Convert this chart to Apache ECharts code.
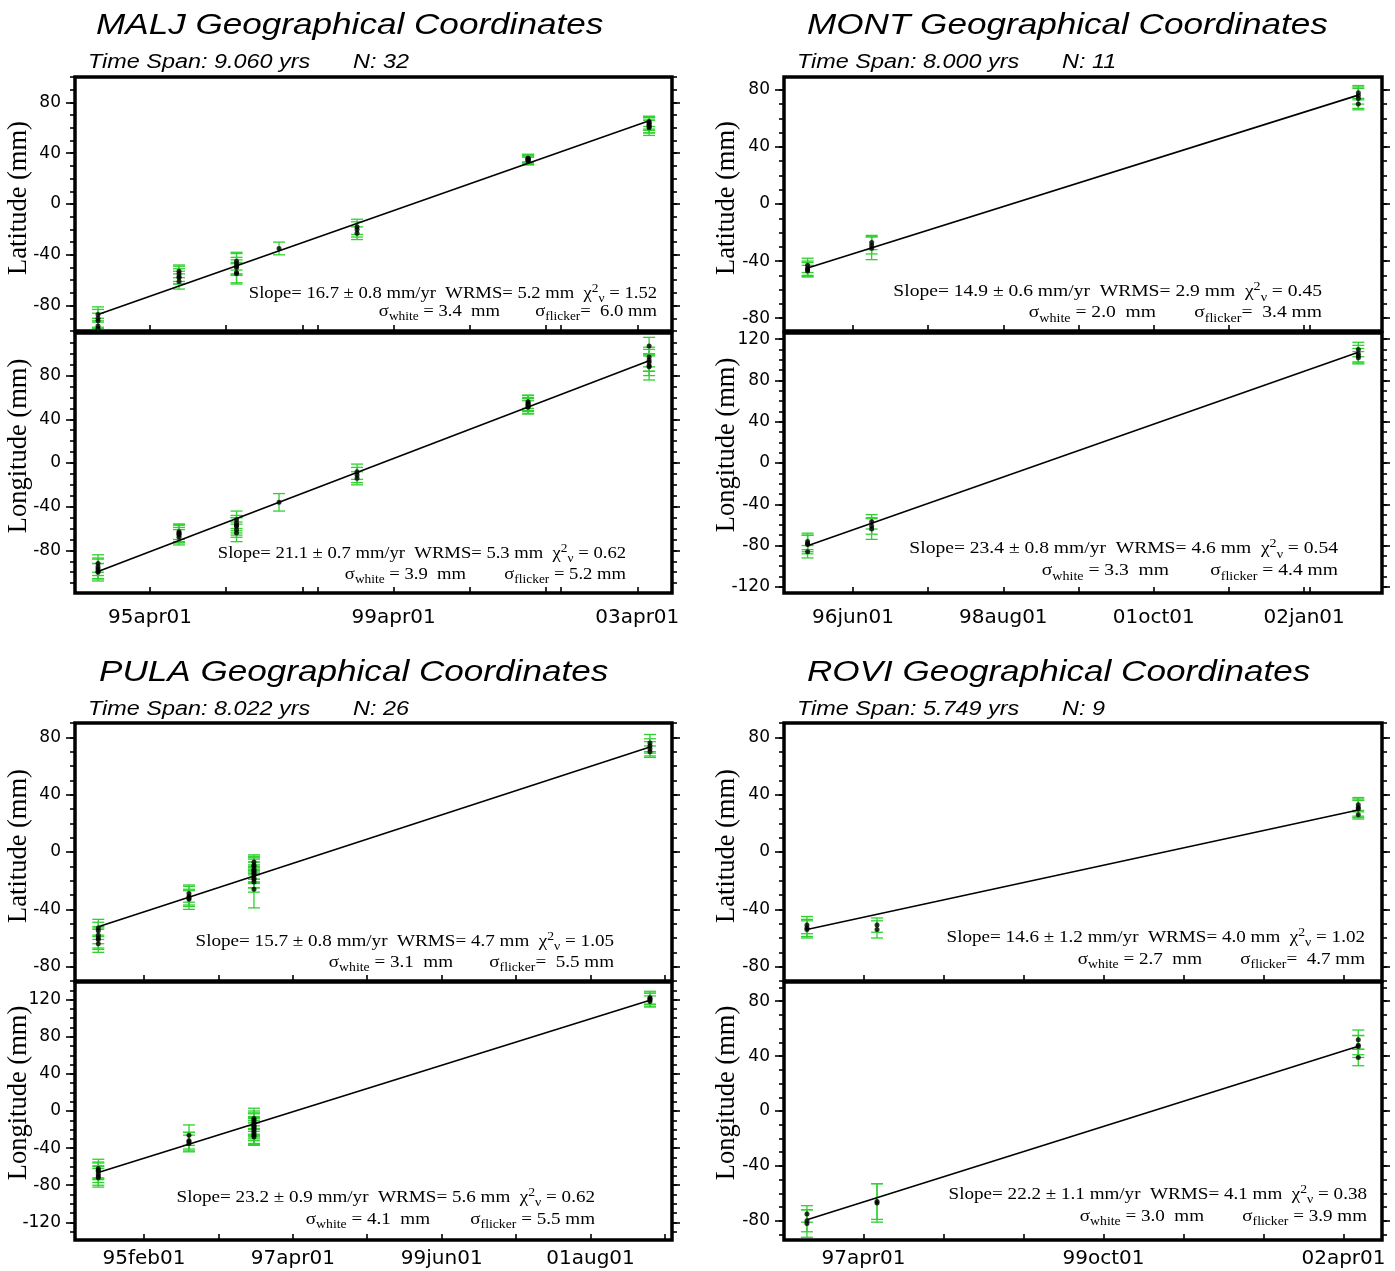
<!DOCTYPE html>
<html>
<head>
<meta charset="utf-8">
<script src="https://cdn.jsdelivr.net/npm/echarts@6/dist/echarts.min.js"></script>
<style>
html,body{margin:0;padding:0;background:#fff;}
#c{width:1395px;height:1271px;}
</style>
</head>
<body>
<div id="c"></div>
<script>
// ================= DATA =================
const stations = ['MALJ', 'MONT', 'PULA', 'ROVI'];
const timeSpans = ['9.060', '8.000', '8.022', '5.749'];
const obsCounts = [32, 11, 26, 9];

// x axis (decimal years)
const xMinYears = [1994.018, 1995.423, 1994.079, 1996.422];
const xMaxYears = [2003.820, 2004.039, 2002.769, 2002.651];
const xLabelTexts = [
  ['95apr01', '99apr01', '03apr01'],
  ['96jun01', '98aug01', '01oct01', '02jan01'],
  ['95feb01', '97apr01', '99jun01', '01aug01'],
  ['97apr01', '99oct01', '02apr01']
];
const xLabelYears = [
  [1995.25, 1999.25, 2003.25],
  [1996.417, 1998.583, 2000.75, 2002.917],
  [1995.083, 1997.25, 1999.417, 2001.583],
  [1997.25, 1999.75, 2002.25]
];
const xTickYears = [
  [1995.25, 1996.5, 1997.75, 1998.0, 1999.25, 2000.5, 2001.75, 2002.0, 2003.25],
  [1996.417, 1997.5, 1998.583, 1999.667, 2000.75, 2001.833, 2002.917, 2003.0],
  [1995.083, 1996.167, 1997.25, 1998.333, 1999.417, 2000.5, 2001.583, 2002.667],
  [1997.25, 1998.083, 1998.917, 1999.75, 2000.583, 2001.417, 2002.25]
];

// y axes (mm)
const latLimits = [100, 89, 90, 90];
const lonLimits = [119, 126, 139, 94];
const latTickLabels = [
  [-80, -40, 0, 40, 80], [-80, -40, 0, 40, 80], [-80, -40, 0, 40, 80], [-80, -40, 0, 40, 80]
];
const lonTickLabels = [
  [-80, -40, 0, 40, 80], [-120, -80, -40, 0, 40, 80, 120], [-120, -80, -40, 0, 40, 80, 120], [-80, -40, 0, 40, 80]
];
const minorTickStep = 10;

// ---- MALJ ----
const maljEpochs = [1994.396, 1995.726, 1996.670, 1997.368, 1998.649, 2001.457, 2003.444];
const maljLat = [[-87, -90, -92, -96, -98], [-53, -55, -57, -58, -61], [-45, -47, -49, -50, -54, -55], [-35], [-18, -20, -23], [36, 35, 34, 36, 35, 34], [65, 64, 63, 62, 61, 60]];
const maljLatErr = [[6, 7, 6, 6, 6], [5, 6, 6, 5, 6], [7, 8, 7, 6, 8, 8], [5], [6, 6, 5], [3, 3, 3, 3, 4, 3], [4, 5, 5, 6, 5, 6]];
const maljLon = [[-92, -95, -97, -99, -100], [-63, -64, -65, -66, -68], [-52, -55, -57, -58, -61, -64], [-36], [-8, -11, -14], [56, 55, 54, 53, 52, 51], [107, 97, 94, 92, 89, 88]];
const maljLonErr = [[8, 8, 9, 7, 8], [7, 8, 8, 7, 7], [8, 7, 7, 8, 7, 8], [8], [7, 7, 6], [6, 7, 6, 6, 7, 6], [8, 9, 10, 8, 9, 12]];

// ---- MONT ----
const montEpochs = [1995.763, 1996.686, 2003.698];
const montLat = [[-43, -45, -46, -47], [-27, -29, -31], [78, 76, 74, 70]];
const montLatErr = [[5, 5, 5, 4], [5, 6, 8], [5, 6, 7, 4]];
const montLon = [[-76, -78, -79, -86], [-57, -61, -64], [110, 106, 104, 102]];
const montLonErr = [[8, 8, 9, 6], [7, 8, 10], [7, 8, 7, 6]];

// ---- PULA ----
const pulaEpochs = [1994.418, 1995.738, 1996.684, 2002.448];
const pulaLat = [[-53, -55, -58, -60, -61, -64], [-29, -31, -32, -33], [-7, -9, -10, -12, -13, -14, -15, -16, -18, -19, -21, -26], [76, 74, 72, 70]];
const pulaLatErr = [[6, 6, 6, 7, 7, 6], [6, 7, 5, 7], [5, 6, 6, 7, 6, 7, 6, 6, 7, 6, 7, 13], [6, 5, 5, 4]];
const pulaLon = [[-62, -64, -65, -68, -70, -72], [-26, -32, -33, -35], [-8, -10, -12, -14, -16, -17, -18, -20, -22, -24, -26, -28], [122, 121, 120, 118]];
const pulaLonErr = [[10, 9, 9, 9, 10, 10], [11, 9, 10, 9], [11, 10, 10, 11, 10, 10, 10, 10, 10, 11, 10, 9], [7, 6, 7, 6]];

// ---- ROVI ----
const roviEpochs = [1996.661, 1997.391, 2002.404];
const roviLat = [[-51, -53, -54], [-51, -54], [33, 31, 30, 26]];
const roviLatErr = [[6, 6, 6], [5, 6], [5, 6, 6, 3]];
const roviLon = [[-75, -80, -82], [-67, -66], [52, 48, 47, 39]];
const roviLonErr = [[6, 8, 10], [14, 13], [7, 7, 8, 6]];

// fitted lines (start, end)
const latFits = [
  [[1994.396, -87.0], [2003.444, 65.6]],
  [[1995.763, -44.9], [2003.698, 76.3]],
  [[1994.418, -52.1], [2002.448, 73.3]],
  [[1996.661, -54.1], [2002.404, 29.3]]
];
const lonFits = [
  [[1994.396, -99.3], [2003.444, 93.5]],
  [[1995.763, -80.3], [2003.698, 107.3]],
  [[1994.418, -66.3], [2002.448, 119.4]],
  [[1996.661, -79.3], [2002.404, 47.2]]
];

// statistics text
const latSlopes = ['16.7 ± 0.8', '14.9 ± 0.6', '15.7 ± 0.8', '14.6 ± 1.2'];
const lonSlopes = ['21.1 ± 0.7', '23.4 ± 0.8', '23.2 ± 0.9', '22.2 ± 1.1'];
const latWrms = ['5.2', '2.9', '4.7', '4.0'];
const lonWrms = ['5.3', '4.6', '5.6', '4.1'];
const latChi2 = ['1.52', '0.45', '1.05', '1.02'];
const lonChi2 = ['0.62', '0.54', '0.62', '0.38'];
const latSigWhite = ['3.4', '2.0', '3.1', '2.7'];
const lonSigWhite = ['3.9', '3.3', '4.1', '3.0'];
const latSigFlicker = ['6.0', '3.4', '5.5', '4.7'];
const lonSigFlicker = ['5.2', '4.4', '5.5', '3.9'];

// ================= LAYOUT / STYLE =================
const COL_LEFT = [75, 784];
const COL_WIDTH = [597, 598];
const ROW_LAT_TOP = [77, 723];
const ROW_LAT_H = [254, 258];
const ROW_LON_TOP = [333, 982];
const ROW_LON_H = [260, 258];
const X_LABEL_MARGIN = [15, 9];
const TITLE_X = [96, 807, 99, 807];
const TITLE_Y = [26, 673];
const SUB_X = [88, 797];
const SUBN_X = [353, 1062];
const SUB_Y = [62, 709];
const YTITLE_X = [19, 727];
const YTITLE_LAT_Y = [198, 198, 846, 846];
const YTITLE_LON_Y = [446, 445, 1093, 1093];
// [line1 right, line1 y, white right, flicker right, line2 y]
const ANNO = [
  { lat: [657, 294, 500, 657, 312], lon: [626, 554, 466, 626, 575] },
  { lat: [1322, 292, 1156, 1322, 313], lon: [1338, 549, 1169, 1338, 571] },
  { lat: [614, 942, 453, 614, 963], lon: [595, 1198, 430, 595, 1220] },
  { lat: [1365, 938, 1202, 1365, 960], lon: [1367, 1195, 1204, 1367, 1217] }
];
const ANNO_FONT = [16.2, 17, 16.6, 16.6];
const GREEN = '#2fd12f';
const SANS = 'Liberation Sans';
const SERIF = 'Liberation Serif';
const TICKFONT = 'DejaVu Sans';

const sets = [
  { epochs: maljEpochs, lat: maljLat, latErr: maljLatErr, lon: maljLon, lonErr: maljLonErr },
  { epochs: montEpochs, lat: montLat, latErr: montLatErr, lon: montLon, lonErr: montLonErr },
  { epochs: pulaEpochs, lat: pulaLat, latErr: pulaLatErr, lon: pulaLon, lonErr: pulaLonErr },
  { epochs: roviEpochs, lat: roviLat, latErr: roviLatErr, lon: roviLon, lonErr: roviLonErr }
];

function buildPoints(epochs, vals, errs) {
  const out = [];
  epochs.forEach((t, i) => vals[i].forEach((v, j) => out.push([t, v, errs[i][j]])));
  return out;
}
function minorValues(lim) {
  const a = [];
  const start = -Math.floor(lim / minorTickStep) * minorTickStep;
  for (let v = start; v <= lim; v += minorTickStep) a.push(v);
  return a;
}

const grids = [], xAxes = [], yAxes = [], series = [], graphics = [];
const tickLine = { color: '#000', width: 1.6 };

function errRender(params, api) {
  const x = api.value(0), y = api.value(1), e = api.value(2);
  const top = api.coord([x, y + e]);
  const bot = api.coord([x, y - e]);
  const hw = 6;
  const st = { stroke: GREEN, lineWidth: 1.3 };
  return {
    type: 'group',
    children: [
      { type: 'line', shape: { x1: top[0], y1: top[1], x2: bot[0], y2: bot[1] }, style: st },
      { type: 'line', shape: { x1: top[0] - hw, y1: top[1], x2: top[0] + hw, y2: top[1] }, style: st },
      { type: 'line', shape: { x1: bot[0] - hw, y1: bot[1], x2: bot[0] + hw, y2: bot[1] }, style: st }
    ]
  };
}

for (let p = 0; p < 4; p++) {
  const col = p % 2, row = Math.floor(p / 2);
  ['lat', 'lon'].forEach(comp => {
    const gi = grids.length;
    const isLon = comp === 'lon';
    grids.push({
      left: COL_LEFT[col], width: COL_WIDTH[col],
      top: isLon ? ROW_LON_TOP[row] : ROW_LAT_TOP[row],
      height: isLon ? ROW_LON_H[row] : ROW_LAT_H[row],
      show: true, borderColor: '#000', borderWidth: 3.5, backgroundColor: 'transparent',
      containLabel: false, outerBoundsMode: 'none'
    });
    const labYears = xLabelYears[p], labTexts = xLabelTexts[p];
    xAxes.push({
      gridIndex: gi, type: 'value', position: 'bottom',
      min: xMinYears[p], max: xMaxYears[p],
      axisLine: { show: false, onZero: false }, splitLine: { show: false },
      axisTick: { show: true, inside: true, length: 6, customValues: xTickYears[p], lineStyle: tickLine },
      axisLabel: {
        show: isLon, customValues: labYears,
        formatter: v => { const k = labYears.findIndex(y => Math.abs(y - v) < 1e-6); return k >= 0 ? labTexts[k] : ''; },
        fontFamily: TICKFONT, fontSize: 20, color: '#000', margin: X_LABEL_MARGIN[row]
      }
    });
    const lim = isLon ? lonLimits[p] : latLimits[p];
    const majors = isLon ? lonTickLabels[p] : latTickLabels[p];
    const minors = minorValues(lim);
    const yBase = yAxes.length;
    const yCommon = { gridIndex: gi, type: 'value', min: -lim, max: lim, axisLine: { show: false, onZero: false }, splitLine: { show: false } };
    yAxes.push(Object.assign({}, yCommon, {
      position: 'left',
      axisTick: { show: true, inside: false, length: 9, customValues: majors, lineStyle: tickLine },
      axisLabel: { show: true, customValues: majors, fontFamily: TICKFONT, fontSize: 17, color: '#000', margin: 14 }
    }));
    yAxes.push(Object.assign({}, yCommon, {
      position: 'left',
      axisTick: { show: true, inside: false, length: 5, customValues: minors, lineStyle: tickLine },
      axisLabel: { show: false }
    }));
    yAxes.push(Object.assign({}, yCommon, {
      position: 'right',
      axisTick: { show: true, inside: false, length: 8, customValues: majors, lineStyle: tickLine },
      axisLabel: { show: false }
    }));
    yAxes.push(Object.assign({}, yCommon, {
      position: 'right',
      axisTick: { show: true, inside: false, length: 5, customValues: minors, lineStyle: tickLine },
      axisLabel: { show: false }
    }));

    const s = sets[p];
    const pts = buildPoints(s.epochs, s[comp], s[comp + 'Err']);
    series.push({
      type: 'custom', xAxisIndex: gi, yAxisIndex: yBase, data: pts, clip: true,
      encode: { x: 0, y: 1 }, renderItem: errRender, silent: true, z: 2
    });
    series.push({
      type: 'line', xAxisIndex: gi, yAxisIndex: yBase, data: isLon ? lonFits[p] : latFits[p],
      symbol: 'none', lineStyle: { color: '#000', width: 1.6 }, silent: true, z: 3
    });
    series.push({
      type: 'scatter', xAxisIndex: gi, yAxisIndex: yBase, data: pts.map(d => [d[0], d[1]]),
      symbol: 'circle', symbolSize: 5, itemStyle: { color: '#000' }, silent: true, z: 4
    });

    // y axis title
    graphics.push({
      type: 'text', x: YTITLE_X[col], y: isLon ? YTITLE_LON_Y[p] : YTITLE_LAT_Y[p], rotation: Math.PI / 2,
      style: { text: isLon ? 'Longitude (mm)' : 'Latitude (mm)', fontFamily: SERIF, fontSize: 26.5, fill: '#000', align: 'center', verticalAlign: 'middle' }
    });

    // statistics annotation
    const a = ANNO[p][comp];
    const fs = ANNO_FONT[p];
    const subFs = fs * 0.72;
    const rich = {
      sub: { fontFamily: SERIF, fontSize: subFs, lineHeight: subFs + 1.5, verticalAlign: 'bottom', fill: '#000' },
      sup: { fontFamily: SERIF, fontSize: subFs, lineHeight: subFs + 1.5, verticalAlign: 'top', fill: '#000' }
    };
    const baseStyle = { fontFamily: SERIF, fontSize: fs, lineHeight: fs + 6, fill: '#000', align: 'right', verticalAlign: 'middle', rich: rich };
    const slope = isLon ? lonSlopes[p] : latSlopes[p];
    const wrms = isLon ? lonWrms[p] : latWrms[p];
    const chi = isLon ? lonChi2[p] : latChi2[p];
    const sw = isLon ? lonSigWhite[p] : latSigWhite[p];
    const sf = isLon ? lonSigFlicker[p] : latSigFlicker[p];
    graphics.push({
      type: 'text', x: a[0], y: a[1], scaleX: 1.15,
      style: Object.assign({}, baseStyle, { text: 'Slope= ' + slope + ' mm/yr  WRMS= ' + wrms + ' mm  χ{sup|2}{sub|ν} = ' + chi })
    });
    graphics.push({
      type: 'text', x: a[2], y: a[4], scaleX: 1.15,
      style: Object.assign({}, baseStyle, { text: 'σ{sub|white} = ' + sw + '  mm' })
    });
    graphics.push({
      type: 'text', x: a[3], y: a[4], scaleX: 1.15,
      style: Object.assign({}, baseStyle, { text: isLon ? ('σ{sub|flicker} = ' + sf + ' mm') : ('σ{sub|flicker}=  ' + sf + ' mm') })
    });
  });

  // titles
  graphics.push({
    type: 'text', x: TITLE_X[p], y: TITLE_Y[row], scaleX: 1.17,
    style: { text: stations[p] + ' Geographical Coordinates', fontFamily: SANS, fontStyle: 'italic', fontSize: 30, fill: '#000', align: 'left', verticalAlign: 'middle' }
  });
  graphics.push({
    type: 'text', x: SUB_X[col], y: SUB_Y[row], scaleX: 1.17,
    style: { text: 'Time Span: ' + timeSpans[p] + ' yrs', fontFamily: SANS, fontStyle: 'italic', fontSize: 20, fill: '#000', align: 'left', verticalAlign: 'middle' }
  });
  graphics.push({
    type: 'text', x: SUBN_X[col], y: SUB_Y[row], scaleX: 1.17,
    style: { text: 'N: ' + obsCounts[p], fontFamily: SANS, fontStyle: 'italic', fontSize: 20, fill: '#000', align: 'left', verticalAlign: 'middle' }
  });
}

const chart = echarts.init(document.getElementById('c'), null, { renderer: 'canvas', width: 1395, height: 1271 });
chart.setOption({
  animation: false,
  backgroundColor: '#fff',
  grid: grids,
  xAxis: xAxes,
  yAxis: yAxes,
  series: series,
  graphic: { elements: graphics }
});
</script>
</body>
</html>
